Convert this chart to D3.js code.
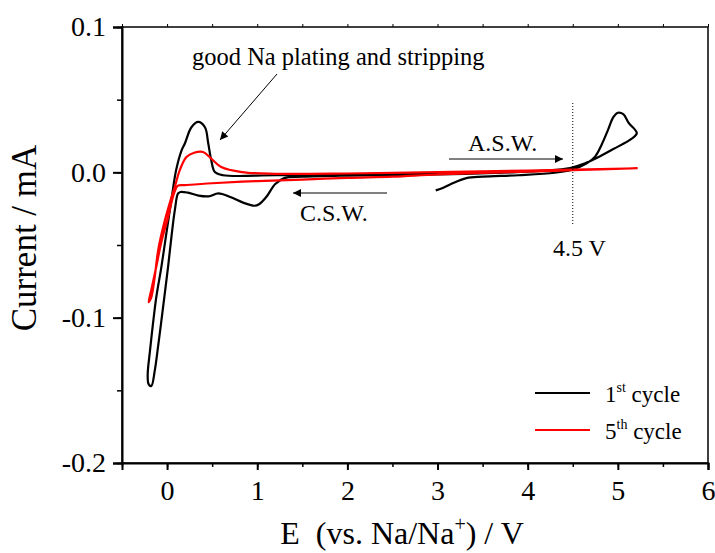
<!DOCTYPE html>
<html><head><meta charset="utf-8">
<script src="https://cdn.jsdelivr.net/npm/d3@7"></script>
<style>body{margin:0;background:#fff}text{font-family:"Liberation Serif","Times New Roman",serif;fill:#000}</style>
</head><body><svg id="c" width="715" height="553"></svg>
<script>
const xTicks=[0,1,2,3,4,5,6];
const yTicks=[-0.2,-0.1,0.0,0.1];
const yTickLabels=["-0.2","-0.1","0.0","0.1"];
const seriesNames=["1st cycle","5th cycle"];
const seriesColors=["#000000","#ff0000"];
const cycle1=[[2.98,-0.0124],[3.05,-0.011],[3.15,-0.008],[3.32,-0.004],[3.5,-0.003],[3.9,-0.002],[4.3,-0.0003],[4.5,0.002],[4.65,0.006],[4.75,0.011],[4.82,0.019],[4.89,0.029],[4.95,0.038],[5.0,0.041],[5.06,0.040],[5.12,0.034],[5.21,0.027],
[5.15,0.023],[4.95,0.016],[4.77,0.010],[4.63,0.006],[4.47,0.003],[4.2,0.0012],[3.8,0.0],[3.3,-0.001],[2.7,-0.0017],[2.0,-0.0022],[1.5,-0.003],[1.3,-0.004],[1.2,-0.008],[1.1,-0.017],[1.02,-0.022],[0.97,-0.023],[0.85,-0.021],[0.7,-0.017],[0.57,-0.0145],[0.46,-0.0165],[0.35,-0.016],[0.23,-0.014],[0.15,-0.0135],[0.122,-0.0145],[0.086,-0.026],[0.048,-0.0446],[0.011,-0.065],[-0.026,-0.0837],[-0.063,-0.102],[-0.10,-0.120],[-0.137,-0.1366],[-0.175,-0.147],[-0.205,-0.1457],[-0.215,-0.139],[-0.19,-0.123],[-0.156,-0.104],[-0.12,-0.086],[-0.063,-0.065],[-0.008,-0.042],[0.048,-0.019],[0.10,0.0014],[0.16,0.015],[0.197,0.0198],[0.27,0.031],[0.345,0.0347],[0.42,0.031],[0.457,0.0198],[0.49,0.0083],[0.53,0.0002],[0.62,-0.002],[1.2,-0.002],[2.0,-0.0015],[3.0,-0.001]];
const cycle5=[[5.22,0.0028],[4.5,0.0015],[4.0,0.0005],[3.0,-0.0015],[2.5,-0.003],[2.0,-0.0038],[1.5,-0.005],[1.0,-0.006],[0.5,-0.0075],[0.2,-0.0088],[0.12,-0.0092],[0.08,-0.014],[0.04,-0.023],[0.011,-0.031],[-0.06,-0.047],[-0.12,-0.065],[-0.175,-0.081],[-0.205,-0.0894],[-0.175,-0.086],[-0.137,-0.072],[-0.1,-0.054],[-0.045,-0.038],[0.03,-0.021],[0.086,-0.010],[0.14,0.0014],[0.215,0.0106],[0.3,0.0135],[0.40,0.014],[0.49,0.0094],[0.6,0.0037],[0.83,0.0002],[1.2,-0.001],[2.0,-0.0008],[3.0,0.0002],[4.0,0.0012],[5.22,0.0028]];

const svg=d3.select("#c");
const L=122,R=708,T=27,B=463;
const x=d3.scaleLinear().domain([-0.5,6]).range([L,R]);
const y=d3.scaleLinear().domain([-0.2,0.1]).range([B,T]);

// frame
svg.append("rect").attr("x",L).attr("y",T).attr("width",R-L).attr("height",B-T).attr("fill","none").attr("stroke","#000").attr("stroke-width",1.5);

// axes
const minorX=d3.range(-0.5,6.01,0.5);
const minorY=d3.range(-0.2,0.101,0.05);
const gx=svg.append("g").attr("transform",`translate(0,${B})`);
gx.call(d3.axisBottom(x).tickValues(minorX).tickSize(4).tickFormat(""));
gx.call(g=>g.select(".domain").remove());
gx.selectAll(".tick line").attr("stroke-width",1.5);
const gx2=svg.append("g").attr("transform",`translate(0,${B})`)
  .call(d3.axisBottom(x).tickValues(xTicks).tickSize(7).tickPadding(10).tickFormat(d3.format("d")));
gx2.select(".domain").attr("stroke-width",2);
gx2.selectAll(".tick line").attr("stroke-width",2);
gx2.selectAll("text").style("font-size","28px").style("font-family","Liberation Serif");

const gt=svg.append("g").attr("transform",`translate(0,${T})`)
  .call(d3.axisTop(x).tickValues(minorX).tickSize(3).tickFormat(""));
gt.select(".domain").remove();

const gy=svg.append("g").attr("transform",`translate(${L},0)`)
  .call(d3.axisLeft(y).tickValues(minorY).tickSize(5).tickFormat(""));
gy.select(".domain").remove();
gy.selectAll(".tick line").attr("stroke-width",1.5);
const gy2=svg.append("g").attr("transform",`translate(${L},0)`)
  .call(d3.axisLeft(y).tickValues(yTicks).tickSize(9).tickPadding(7).tickFormat((d,i)=>yTickLabels[i]));
gy2.select(".domain").attr("stroke-width",2);
gy2.selectAll(".tick line").attr("stroke-width",2);
gy2.selectAll("text").style("font-size","28px").style("font-family","Liberation Serif");

// axis titles
svg.append("text").attr("transform","translate(36,238) rotate(-90)").attr("text-anchor","middle")
  .style("font-size","35px").text("Current / mA");
const xt=svg.append("text").attr("x",402).attr("y",544).attr("text-anchor","middle").style("font-size","32px");
xt.append("tspan").text("E\u00a0 (vs. Na/Na");
xt.append("tspan").attr("dy",-13).style("font-size","20px").text("+");
xt.append("tspan").attr("dy",13).text(") / V");

// curves
const line=d3.line().x(d=>x(d[0])).y(d=>y(d[1])).curve(d3.curveCatmullRom.alpha(0.5));
svg.append("path").datum(cycle1).attr("d",line).attr("fill","none").attr("stroke",seriesColors[0]).attr("stroke-width",2.2).attr("stroke-linejoin","round");
svg.append("path").datum(cycle5).attr("d",line).attr("fill","none").attr("stroke",seriesColors[1]).attr("stroke-width",2.2).attr("stroke-linejoin","round");

// annotations
const defs=svg.append("defs");
defs.append("marker").attr("id","ah").attr("viewBox","0 0 10 10").attr("refX",10).attr("refY",5)
  .attr("markerWidth",14).attr("markerHeight",8).attr("markerUnits","userSpaceOnUse").attr("orient","auto")
  .append("path").attr("d","M0,0 L10,5 L0,10 z").attr("fill","#000");
svg.append("text").attr("x",192).attr("y",65).style("font-size","24.5px").text("good Na plating and stripping");
svg.append("line").attr("x1",277).attr("y1",74).attr("x2",220).attr("y2",140).attr("stroke","#000").attr("stroke-width",1).attr("marker-end","url(#ah)");
svg.append("line").attr("x1",387).attr("y1",193).attr("x2",293).attr("y2",193).attr("stroke","#000").attr("stroke-width",1).attr("marker-end","url(#ah)");
svg.append("text").attr("x",300).attr("y",221).style("font-size","24px").text("C.S.W.");
svg.append("line").attr("x1",449).attr("y1",159).attr("x2",563).attr("y2",159).attr("stroke","#000").attr("stroke-width",1).attr("marker-end","url(#ah)");
svg.append("text").attr("x",468).attr("y",151).style("font-size","24px").text("A.S.W.");
svg.append("line").attr("x1",x(4.5)).attr("x2",x(4.5)).attr("y1",103).attr("y2",225).attr("stroke","#000").attr("stroke-width",1).attr("stroke-dasharray","1,2");
svg.append("text").attr("x",553).attr("y",256).style("font-size","24px").text("4.5 V");

// legend
const sup=[["1","st"],["5","th"]];
[0,1].forEach(i=>{
  const yy=393+i*37;
  svg.append("line").attr("x1",535).attr("x2",590).attr("y1",yy).attr("y2",yy).attr("stroke",seriesColors[i]).attr("stroke-width",2);
  const t=svg.append("text").attr("x",605).attr("y",yy+9).style("font-size","23px");
  t.append("tspan").text(sup[i][0]);
  t.append("tspan").attr("dy",-10).style("font-size","14px").text(sup[i][1]);
  t.append("tspan").attr("dy",10).text(" cycle");
});
</script></body></html>
